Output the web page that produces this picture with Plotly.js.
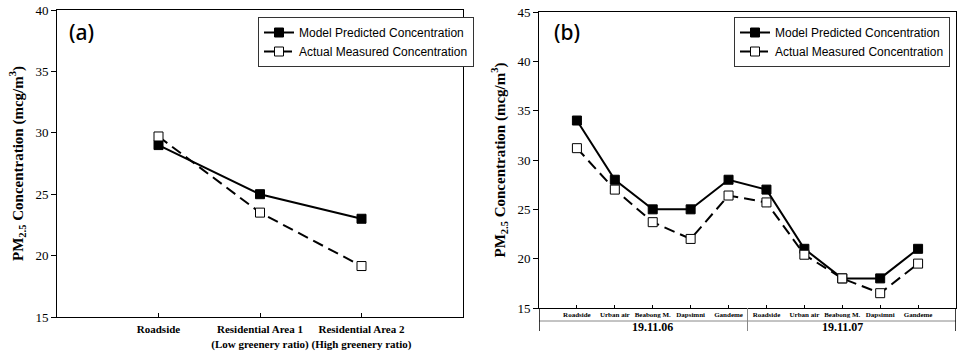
<!DOCTYPE html>
<html><head><meta charset="utf-8">
<script src="https://cdn.plot.ly/plotly-3.0.1.min.js"></script>
<style>html,body{margin:0;padding:0;background:#fff}#chart{width:963px;height:357px}</style>
</head><body><div id="chart"></div>
<script>
// Panel (a)
const catsA = ["Roadside", "Residential Area 1<br>(Low greenery ratio)", "Residential Area 2<br>(High greenery ratio)"];
const modelA = [29, 25, 23];
const actualA = [29.7, 23.5, 19.15];

// Panel (b)
const sitesB = ["Roadside", "Urban air", "Beabong M.", "Dapsimni", "Gandeme", "Roadside", "Urban air", "Beabong M.", "Dapsimni", "Gandeme"];
const datesB = ["19.11.06", "19.11.06", "19.11.06", "19.11.06", "19.11.06", "19.11.07", "19.11.07", "19.11.07", "19.11.07", "19.11.07"];
const modelB = [34, 28, 25, 25, 28, 27, 21, 18, 18, 21];
const actualB = [31.2, 27.0, 23.7, 22.0, 26.4, 25.7, 20.4, 18.0, 16.5, 19.5];

const seriesNames = ["Model Predicted Concentration", "Actual Measured Concentration"];

const idxA = catsA.map((_, i) => i);
const idxB = sitesB.map((_, i) => i);

const serif = "Liberation Serif, Times New Roman, serif";
const sans = "Liberation Sans, Arial, sans-serif";

function tr(x, y, name, filled, xa, ya, leg) {
  return {
    x: x, y: y, name: name, type: "scatter", mode: "lines+markers",
    xaxis: xa, yaxis: ya, legend: leg,
    line: {color: "#000", width: 2, dash: filled ? "solid" : "11px,6px"},
    marker: {symbol: "square", size: 9, color: filled ? "#000" : "#fff", line: {color: "#000", width: 1}}
  };
}

const traces = [
  tr(idxA, modelA, seriesNames[0], true, "x", "y", "legend"),
  tr(idxA, actualA, seriesNames[1], false, "x", "y", "legend"),
  tr(idxB, modelB, seriesNames[0], true, "x2", "y2", "legend2"),
  tr(idxB, actualB, seriesNames[1], false, "x2", "y2", "legend2")
];

const ytitle = "PM<sub>2.5</sub> Concentration (mcg/m<sup>3</sup>)";

// group info for panel b
const groups = [];
datesB.forEach((d, i) => {
  let g = groups.find(o => o.name === d);
  if (!g) { g = {name: d, idx: []}; groups.push(g); }
  g.idx.push(i);
});

const shapes = [];
const annotations = [
  {text: "(a)", x: 81 / 963, y: 1 - 32 / 357, xref: "paper", yref: "paper", xanchor: "center", yanchor: "middle", showarrow: false, font: {family: "Noto Sans, sans-serif", size: 21, weight: 500, color: "#000"}},
  {text: "(b)", x: 567 / 963, y: 1 - 32 / 357, xref: "paper", yref: "paper", xanchor: "center", yanchor: "middle", showarrow: false, font: {family: "Noto Sans, sans-serif", size: 21, weight: 500, color: "#000"}}
];
const yAxisB = 1 - 308 / 357, yLow = 1 - 331 / 357, yMid = 1 - 321 / 357;
shapes.push({type: "line", xref: "x2", yref: "paper", x0: -1, x1: idxB.length, y0: yMid, y1: yMid, line: {color: "#888", width: 1}});
shapes.push({type: "line", xref: "x2", yref: "paper", x0: -1, x1: -1, y0: yAxisB, y1: yLow, line: {color: "#000", width: 1.5}});
shapes.push({type: "line", xref: "x2", yref: "paper", x0: idxB.length, x1: idxB.length, y0: yAxisB, y1: yLow, line: {color: "#000", width: 1.5}});
groups.forEach((g, k) => {
  const c = g.idx.reduce((a, b) => a + b, 0) / g.idx.length;
  annotations.push({text: "<b>" + g.name + "</b>", x: c, xref: "x2", y: 1 - 327 / 357, yref: "paper", xanchor: "center", yanchor: "middle", showarrow: false,
    font: {family: serif, size: 12, color: "#000"}});
  if (k < groups.length - 1) {
    const edge = g.idx[g.idx.length - 1] + 0.5;
    shapes.push({type: "line", xref: "x2", yref: "paper", x0: edge, x1: edge, y0: yAxisB, y1: yLow, line: {color: "#888", width: 1}});
  }
});

const yAxisCommon = {
  showgrid: false, zeroline: false, showline: true, linecolor: "#000", linewidth: 1, mirror: true,
  ticks: "outside", ticklen: 5, tickcolor: "#000", dtick: 5,
  tickfont: {family: serif, size: 13, color: "#000"}
};

const layout = {
  width: 963, height: 357,
  margin: {l: 0, r: 0, t: 0, b: 0},
  paper_bgcolor: "#fff", plot_bgcolor: "#fff",
  showlegend: true,
  xaxis: {
    domain: [57 / 963, 463 / 963], range: [-1, catsA.length], tickvals: idxA, ticktext: catsA.map(t => "<b>" + t.replace("<br>", "</b><br><b>") + "</b>"),
    tickangle: 0,
    showgrid: false, zeroline: false, showline: true, linecolor: "#000", mirror: true,
    ticks: "inside", ticklen: 4, tickcolor: "#000", ticklabelstandoff: 2,
    tickfont: {family: serif, size: 11, color: "#000"}, anchor: "y"
  },
  yaxis: Object.assign({}, yAxisCommon, {
    domain: [1 - 317 / 357, 1 - 10 / 357], range: [15, 40], anchor: "x",
    title: {text: "<b>" + ytitle + "</b>", font: {family: serif, size: 15, color: "#000"}, standoff: 8}
  }),
  xaxis2: {
    domain: [539 / 963, 956 / 963], range: [-1, idxB.length], tickvals: idxB, ticktext: sitesB.map(t => "<b>" + t + "</b>"),
    tickangle: 0,
    showgrid: false, zeroline: false, showline: true, linecolor: "#000", mirror: true,
    ticks: "inside", ticklen: 3, tickcolor: "#000", ticklabelstandoff: 0,
    tickfont: {family: serif, size: 7, color: "#000"}, anchor: "y2"
  },
  yaxis2: Object.assign({}, yAxisCommon, {
    domain: [1 - 308 / 357, 1 - 12 / 357], range: [15, 45], anchor: "x2",
    title: {text: "<b>" + ytitle + "</b>", font: {family: serif, size: 15, color: "#000"}, standoff: 8}
  }),
  legend: {x: 258 / 963, y: 1 - 17 / 357, xanchor: "left", yanchor: "top", bordercolor: "#333", borderwidth: 1,
    bgcolor: "#fff", font: {family: sans, size: 12, color: "#000"}, tracegroupgap: 0},
  legend2: {x: 950 / 963, y: 1 - 17 / 357, xanchor: "right", yanchor: "top", bordercolor: "#333", borderwidth: 1,
    bgcolor: "#fff", font: {family: sans, size: 12, color: "#000"}, tracegroupgap: 0},
  shapes: shapes,
  annotations: annotations
};

Plotly.newPlot("chart", traces, layout, {displayModeBar: false, staticPlot: true});
</script></body></html>
